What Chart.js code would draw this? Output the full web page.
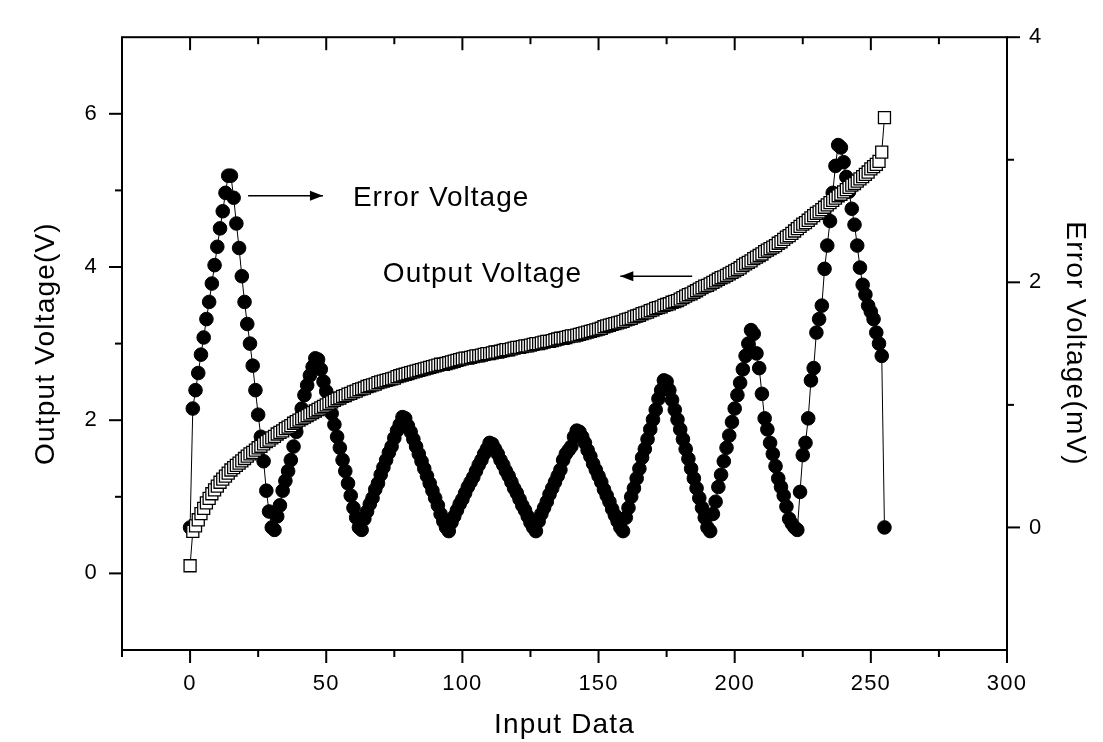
<!DOCTYPE html>
<html>
<head>
<meta charset="utf-8">
<script src="https://cdn.jsdelivr.net/npm/chart.js@4"></script>
<style>
  html, body { margin: 0; padding: 0; background: #fff; }
  #wrap { width: 1103px; height: 742px; position: relative; }
</style>
</head>
<body>
<div id="wrap"><canvas id="chart"></canvas></div>
<script>
// DAC input codes 0..255
const inputCodes = [];
for (let i = 0; i < 256; i++) inputCodes.push(i);

// output voltage (V), left axis, one value per input code
const outputVoltage = [
  0.10,0.55,0.62,0.70,0.78,0.85,0.92,0.98,1.04,1.09,1.14,1.19,1.23,1.27,1.31,1.35,1.38,1.41,1.44,1.47,1.50,
  1.53,1.56,1.58,1.61,1.64,1.66,1.69,1.72,
  1.74,1.77,1.79,1.82,1.84,1.86,1.89,1.91,1.93,1.96,1.98,2.00,
  2.02,2.04,2.06,2.08,2.10,2.12,2.14,2.16,2.18,2.20,2.22,2.24,2.26,
  2.28,2.29,2.31,2.32,2.34,2.35,2.37,2.38,2.40,2.41,2.42,2.44,2.45,2.46,2.47,2.49,2.50,
  2.51,2.52,2.53,2.54,2.55,2.57,2.58,2.59,2.60,2.61,2.62,2.63,2.64,2.65,2.66,
  2.67,2.68,2.69,2.70,2.71,2.72,2.73,2.73,2.74,2.75,2.76,2.77,2.78,2.79,2.80,
  2.81,2.81,2.82,2.83,2.84,2.84,2.85,2.86,2.87,2.87,2.88,2.89,2.89,2.90,2.91,2.92,2.92,2.93,2.94,2.95,2.95,
  2.96,2.97,2.97,2.98,2.99,3.00,3.00,3.01,3.02,3.03,3.03,3.04,3.05,3.06,3.07,3.07,3.08,3.09,3.10,3.10,3.11,3.12,
  3.13,3.14,3.15,3.16,3.17,3.18,3.19,3.20,3.22,3.23,3.24,3.25,3.26,3.27,3.28,
  3.29,3.31,3.32,3.33,3.35,3.36,3.37,3.39,3.40,3.41,3.43,3.44,3.46,3.47,3.48,3.50,3.51,3.52,3.54,3.55,3.56,3.58,
  3.60,3.62,3.64,3.65,3.67,3.69,3.71,3.73,3.75,3.76,3.78,3.80,3.82,3.84,3.86,3.87,3.89,3.91,3.93,3.95,
  3.97,3.99,4.02,4.04,4.06,4.08,4.11,4.13,4.15,4.17,4.20,4.22,4.24,4.26,4.28,4.31,4.33,
  4.36,4.39,4.41,4.44,4.47,4.50,4.53,4.56,4.58,4.61,4.64,4.67,4.70,4.72,4.75,4.78,4.81,4.84,
  4.87,4.90,4.93,4.95,4.98,5.01,5.04,5.07,5.09,5.12,5.15,
  5.18,5.21,5.24,5.28,5.31,5.34,5.38,
  5.50,5.95
];

// error voltage (mV), right axis, one value per input code
const errorVoltage = [
  0.00,
  0.97,1.12,1.26,1.41,1.55,1.70,1.84,1.99,2.14,2.29,2.44,2.58,2.73,
  2.87,2.87,
  2.69,2.48,2.28,2.05,1.84,1.66,1.50,1.32,1.12,0.92,0.74,0.54,0.30,0.13,
  0.00,-0.02,
  0.09,0.18,0.30,0.38,0.46,0.55,0.66,0.78,0.88,0.97,1.08,1.16,1.24,1.31,
  1.38,1.37,
  1.29,1.19,1.11,1.01,0.93,0.84,0.74,0.65,0.55,0.46,0.36,0.26,0.16,0.08,
  0.00,-0.02,
  0.07,0.13,0.19,0.24,0.31,0.36,0.43,0.49,0.55,0.61,0.66,0.73,0.79,0.84,
  0.90,0.89,
  0.83,0.78,0.72,0.66,0.60,0.54,0.48,0.42,0.36,0.30,0.24,0.18,0.11,0.05,
  0.00,-0.03,
  0.04,0.09,0.14,0.19,0.23,0.28,0.33,0.37,0.41,0.46,0.51,0.55,0.60,0.64,
  0.69,0.68,
  0.64,0.60,0.55,0.51,0.46,0.42,0.37,0.32,0.28,0.23,0.18,0.14,0.09,0.04,
  0.00,-0.03,
  0.05,0.11,0.16,0.21,0.27,0.32,0.37,0.42,0.47,0.55,0.60,0.63,0.66,0.74,
  0.79,0.78,
  0.74,0.69,0.63,0.58,0.52,0.47,0.42,0.37,0.31,0.26,0.21,0.15,0.10,0.05,
  0.00,-0.03,
  0.08,0.16,0.25,0.32,0.40,0.48,0.57,0.64,0.72,0.80,0.88,0.96,1.05,1.12,
  1.20,1.19,
  1.12,1.04,0.96,0.88,0.80,0.72,0.64,0.56,0.48,0.40,0.32,0.24,0.16,0.08,
  0.00,-0.03,
  0.11,0.21,0.33,0.43,0.54,0.65,0.75,0.86,0.97,1.08,1.18,1.29,1.40,1.50,
  1.61,1.58,
  1.42,1.30,1.09,0.89,0.80,0.69,0.60,0.50,0.40,0.33,0.26,0.17,0.07,0.03,
  0.00,-0.02,
  0.29,0.59,0.69,0.89,1.20,1.30,1.59,1.70,1.81,2.11,2.30,2.50,2.73,2.95,
  3.12,3.10,
  2.98,2.86,2.74,2.60,2.47,2.30,2.12,1.98,1.90,1.81,1.76,1.70,1.59,1.50,1.40,
  0.00
];

// tick labels
const xTicks = [0, 50, 100, 150, 200, 250, 300];
const xMinorTicks = [-25, 25, 75, 125, 175, 225, 275];
const leftTicks = [0, 2, 4, 6];
const leftMinorTicks = [1, 3, 5];
const rightTicks = [0, 2, 4];
const rightMinorTicks = [1, 3];

Chart.defaults.font.family = '"Liberation Sans", Arial, Helvetica, sans-serif';
Chart.defaults.color = '#000';

// the scanned figure's lettering runs a bit wider than Arial
const spacingPlugin = {
  id: 'spacing',
  beforeDraw(chart) { chart.ctx.letterSpacing = '1.2px'; },
  beforeDatasetsDraw(chart) { chart.ctx.letterSpacing = '0px'; }
};

// box frame with major/minor tick marks
const framePlugin = {
  id: 'frame',
  afterDraw(chart) {
    const { ctx, chartArea: a, scales: { x, y, y1 } } = chart;
    ctx.save();
    ctx.strokeStyle = '#000';
    ctx.lineWidth = 2;
    ctx.strokeRect(a.left, a.top, a.right - a.left, a.bottom - a.top);
    const seg = (x1, y1_, x2, y2) => {
      ctx.beginPath(); ctx.moveTo(x1, y1_); ctx.lineTo(x2, y2); ctx.stroke();
    };
    xTicks.forEach(v => {
      const px = x.getPixelForValue(v);
      seg(px, a.bottom, px, a.bottom + 13);
      seg(px, a.top, px, a.top + 13);
    });
    xMinorTicks.forEach(v => {
      const px = x.getPixelForValue(v);
      seg(px, a.bottom, px, a.bottom + 7);
      seg(px, a.top, px, a.top + 7);
    });
    leftTicks.forEach(v => { const py = y.getPixelForValue(v); seg(a.left - 13, py, a.left, py); });
    leftMinorTicks.forEach(v => { const py = y.getPixelForValue(v); seg(a.left - 7, py, a.left, py); });
    rightTicks.forEach(v => { const py = y1.getPixelForValue(v); seg(a.right, py, a.right + 13, py); });
    rightMinorTicks.forEach(v => { const py = y1.getPixelForValue(v); seg(a.right, py, a.right + 7, py); });
    ctx.restore();
  }
};

// the two text notes with arrows, placed in data coordinates (left axis)
const notesPlugin = {
  id: 'notes',
  afterDraw(chart, args, opts) {
    const { ctx, scales: { x, y } } = chart;
    ctx.save();
    ctx.fillStyle = '#000';
    ctx.strokeStyle = '#000';
    ctx.lineWidth = 1.5;
    ctx.font = '28px "Liberation Sans", Arial, sans-serif';
    ctx.letterSpacing = '1px';
    ctx.textBaseline = 'middle';
    ctx.textAlign = 'left';
    opts.items.forEach(n => {
      ctx.fillText(n.text, x.getPixelForValue(n.tx), y.getPixelForValue(n.ty));
      const x1 = x.getPixelForValue(n.from), x2 = x.getPixelForValue(n.to);
      const py = y.getPixelForValue(n.ay);
      ctx.beginPath(); ctx.moveTo(x1, py); ctx.lineTo(x2, py); ctx.stroke();
      const dir = x2 > x1 ? 1 : -1;
      ctx.beginPath();
      ctx.moveTo(x2, py);
      ctx.lineTo(x2 - dir * 13, py - 5);
      ctx.lineTo(x2 - dir * 13, py + 5);
      ctx.closePath();
      ctx.fill();
    });
    ctx.restore();
  }
};

new Chart(document.getElementById('chart'), {
  type: 'scatter',
  data: {
    datasets: [
      {
        label: 'Output Voltage',
        data: inputCodes.map((c, i) => ({ x: c, y: outputVoltage[i] })),
        yAxisID: 'y',
        showLine: true,
        borderColor: '#000',
        borderWidth: 1,
        pointStyle: 'rect',
        pointRadius: 8.5,
        pointBorderWidth: 1.3,
        pointBackgroundColor: '#fff',
        pointBorderColor: '#000',
        order: 0
      },
      {
        label: 'Error Voltage',
        data: inputCodes.map((c, i) => ({ x: c, y: errorVoltage[i] })),
        yAxisID: 'y1',
        showLine: true,
        borderColor: '#000',
        borderWidth: 1,
        pointStyle: 'circle',
        pointRadius: 6.8,
        pointBorderWidth: 1,
        pointBackgroundColor: '#000',
        pointBorderColor: '#000',
        order: 1
      }
    ]
  },
  options: {
    responsive: true,
    maintainAspectRatio: false,
    animation: false,
    layout: { padding: { top: 32, left: 0, right: 0, bottom: 0 } },
    plugins: {
      legend: { display: false },
      tooltip: { enabled: false },
      notes: {
        items: [
          { text: 'Error Voltage', tx: 59.8, ty: 4.9, from: 21.3, to: 48.8, ay: 4.93 },
          { text: 'Output Voltage', tx: 70.8, ty: 3.9, from: 184.4, to: 158, ay: 3.88 }
        ]
      }
    },
    scales: {
      x: {
        type: 'linear',
        min: -25,
        max: 300,
        grid: { display: false, drawTicks: false },
        border: { display: false },
        afterBuildTicks: s => { s.ticks = xTicks.map(v => ({ value: v })); },
        afterFit: s => { s.height = 92; },
        ticks: { padding: 21, font: { size: 22 }, maxRotation: 0, autoSkip: false },
        title: { display: true, text: 'Input Data', font: { size: 28 }, padding: { top: 0, bottom: 0 } }
      },
      y: {
        type: 'linear',
        position: 'left',
        min: -1,
        max: 7,
        grid: { display: false, drawTicks: false },
        border: { display: false },
        afterBuildTicks: s => { s.ticks = leftTicks.map(v => ({ value: v })); },
        afterFit: s => { s.width = 122; },
        ticks: { padding: 24, font: { size: 22 } },
        title: { display: true, text: 'Output Voltage(V)', font: { size: 28 }, padding: { top: 29, bottom: 0 } }
      },
      y1: {
        type: 'linear',
        position: 'right',
        min: -1,
        max: 4,
        grid: { display: false, drawTicks: false },
        border: { display: false },
        afterBuildTicks: s => { s.ticks = rightTicks.map(v => ({ value: v })); },
        afterFit: s => { s.width = 96; },
        ticks: { padding: 22, font: { size: 22 } },
        title: { display: true, text: 'Error Voltage(mV)', font: { size: 28 }, padding: { top: 11, bottom: 0 } }
      }
    }
  },
  plugins: [spacingPlugin, framePlugin, notesPlugin]
});
</script>
</body>
</html>
